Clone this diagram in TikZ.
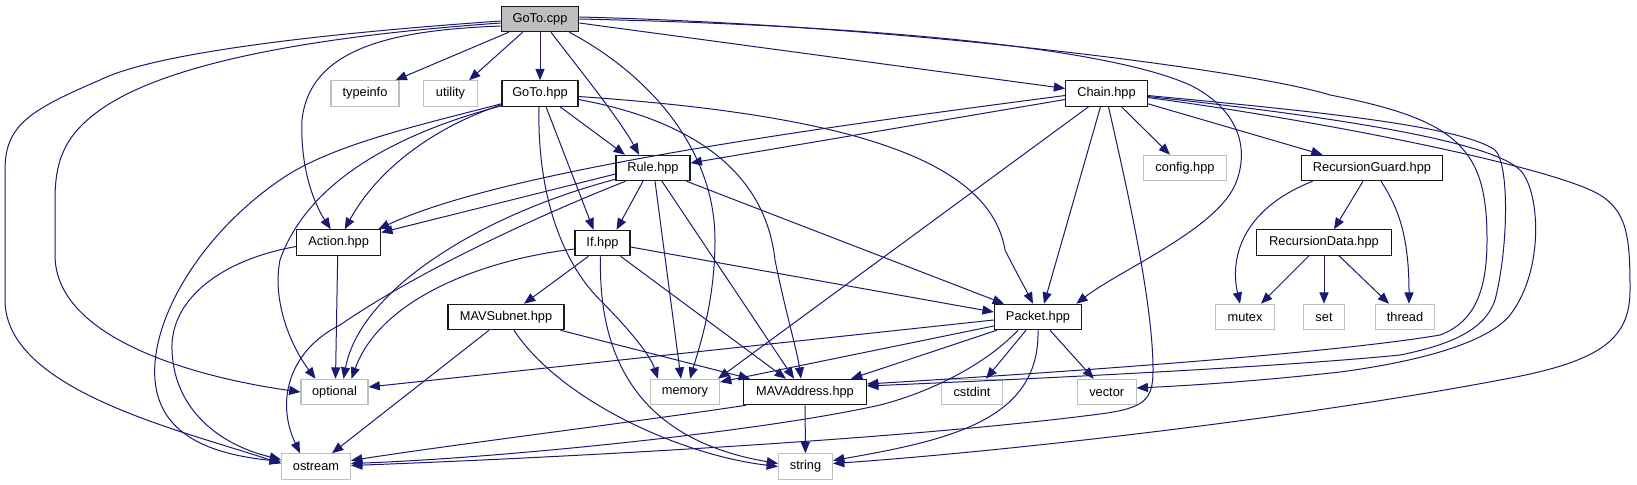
\documentclass[tikz,border=0pt]{standalone}
\usepackage{fontspec}
\setmainfont{Liberation Sans}
\usetikzlibrary{arrows.meta,calc}
\definecolor{edgeblue}{HTML}{191970}
\definecolor{lgray}{HTML}{BFBFBF}
\begin{document}
\begin{tikzpicture}[x=0.75pt,y=-0.75pt,
  base/.style={rectangle,inner sep=0pt,minimum height=19.1pt,line width=0.8pt,
    font=\fontsize{9.6pt}{11pt}\selectfont},
  hbox/.style={base,draw=black!90,fill=white},
  sbox/.style={base,draw=lgray,fill=white},
  cbox/.style={base,draw=black!90,fill=lgray},
  e/.style={draw=edgeblue,line width=0.75pt,-{Triangle[length=8.5pt,width=6.8pt]}}]
\useasboundingbox (0,0) rectangle (1637,485);
% nodes
\node[cbox,minimum width=58.2pt] (gotocpp) at (540,19) {GoTo.cpp};
\node[sbox,minimum width=51pt] (typeinfo) at (365,93.5) {typeinfo};
\node[sbox,minimum width=40.5pt] (utility) at (450.5,93.5) {utility};
\node[hbox,minimum width=57pt] (gotohpp) at (540,93.5) {GoTo.hpp};
\node[hbox,minimum width=61.2pt] (chain) at (1106.5,93.5) {Chain.hpp};
\node[hbox,minimum width=55.5pt] (rule) at (653,168) {Rule.hpp};
\node[sbox,minimum width=62.25pt] (config) at (1185,168) {config.hpp};
\node[hbox,minimum width=106.3pt] (rguard) at (1372,168) {RecursionGuard.hpp};
\node[hbox,minimum width=63pt] (action) at (338.7,242.5) {Action.hpp};
\node[hbox,minimum width=41.25pt] (ifh) at (602.5,243) {If.hpp};
\node[hbox,minimum width=101pt] (rdata) at (1324,242.5) {RecursionData.hpp};
\node[hbox,minimum width=87pt] (mavsubnet) at (506,317) {MAVSubnet.hpp};
\node[hbox,minimum width=65.6pt] (packet) at (1038,317) {Packet.hpp};
\node[sbox,minimum width=44.5pt] (mutex) at (1245,317) {mutex};
\node[sbox,minimum width=30.75pt] (set) at (1324,317) {set};
\node[sbox,minimum width=44.25pt] (thread) at (1405,317) {thread};
\node[sbox,minimum width=50.25pt] (optional) at (334.5,392) {optional};
\node[sbox,minimum width=51.75pt] (memory) at (685,392) {memory};
\node[hbox,minimum width=92.25pt] (mavaddr) at (805,392) {MAVAddress.hpp};
\node[sbox,minimum width=45.75pt] (cstdint) at (972,392) {cstdint};
\node[sbox,minimum width=44pt] (vector) at (1106.7,392) {vector};
\node[sbox,minimum width=51.75pt] (ostream) at (316,466.5) {ostream};
\node[sbox,minimum width=40.5pt] (string) at (805.5,466.5) {string};
% GoTo.cpp
\draw[e] ($(gotocpp.west)+(0,2)$) .. controls (300,35) and (150,55) .. (100,80) .. controls (30,110) and (5,125) .. (5,170) -- (5,300) .. controls (5,390) and (180,430) .. ($(ostream.west)+(0,-3)$);
\draw[e] ($(gotocpp.west)+(0,4)$) .. controls (330,35) and (170,60) .. (100,110) .. controls (65,135) and (55,160) .. (55,200) -- (55,255) .. controls (55,340) and (200,378) .. (optional.west);
\draw[e] ($(gotocpp.west)+(0,7)$) .. controls (400,30) and (310,45) .. (302,120) .. controls (300,170) and (315,205) .. ($(action.north)+(-8,0)$);
\draw[e] ($(gotocpp.south west)+(8,0)$) -- ($(typeinfo.north east)+(-4,0)$);
\draw[e] ($(gotocpp.south west)+(22,0)$) -- ($(utility.north east)+(-9,0)$);
\draw[e] (gotocpp) -- (gotohpp);
\draw[e] ($(gotocpp.south)+(11,0)$) .. controls (580,70) and (620,120) .. ($(rule.north)+(-14,0)$);
\draw[e] ($(gotocpp.south east)+(-10,0)$) .. controls (650,75) and (715,150) .. (715,240) .. controls (715,300) and (700,345) .. ($(memory.north)+(5,0)$);
\draw[e] ($(gotocpp.east)+(0,4)$) -- ($(chain.west)+(0,-5)$);
\draw[e] (gotocpp.east) .. controls (850,25) and (1100,45) .. (1190,85) .. controls (1240,110) and (1250,150) .. (1235,185) .. controls (1215,230) and (1120,270) .. ($(packet.north east)+(-6,0)$);
\draw[e] ($(gotocpp.east)+(0,-2)$) .. controls (900,25) and (1250,70) .. (1330,95) .. controls (1460,120) and (1487,150) .. (1487,240) .. controls (1487,290) and (1475,322) .. (1440,335) .. controls (1340,352) and (1100,370) .. ($(mavaddr.east)+(0,-8)$);
% Chain.hpp
\draw[e] ($(chain.west)+(0,2)$) .. controls (800,130) and (500,172) .. ($(action.north east)+(-3,0)$);
\draw[e] ($(chain.west)+(0,6)$) -- ($(rule.east)+(0,-5)$);
\draw[e] ($(chain.south)+(15,0)$) -- ($(config.north)+(-15,0)$);
\draw[e] ($(chain.south east)+(0,-3)$) -- ($(rguard.north west)+(22,0)$);
\draw[e] ($(chain.south)+(-6,0)$) -- ($(packet.north)+(6,0)$);
\draw[e] ($(chain.south)+(-18,0)$) -- ($(memory.north east)+(-2,0)$);
\draw[e] ($(chain.south)+(2,0)$) .. controls (1125,180) and (1153,300) .. (1153,370) .. controls (1153,400) and (1145,408) .. (1100,414) .. controls (900,440) and (550,458) .. ($(ostream.east)+(0,-1)$);
\draw[e] ($(chain.east)+(0,2)$) .. controls (1300,110) and (1460,125) .. (1495,150) .. controls (1510,165) and (1508,250) .. (1495,300) .. controls (1485,330) and (1450,345) .. (1400,355) .. controls (1300,365) and (1100,376) .. ($(mavaddr.east)+(0,-6)$);
\draw[e] ($(chain.east)+(0,3)$) .. controls (1320,115) and (1490,140) .. (1520,170) .. controls (1540,190) and (1545,270) .. (1510,315) .. controls (1490,340) and (1430,360) .. (1340,372) .. controls (1250,382) and (1180,386) .. ($(vector.east)+(0,-4)$);
\draw[e] ($(chain.east)+(0,4)$) .. controls (1350,125) and (1560,170) .. (1600,195) .. controls (1628,212) and (1630,240) .. (1630,290) .. controls (1630,340) and (1600,362) .. (1500,380) .. controls (1300,418) and (1000,452) .. ($(string.east)+(0,-3)$);
% GoTo.hpp
\draw[e] ($(gotohpp.south west)+(0,-3)$) .. controls (420,125) and (330,145) .. (280,180) .. controls (200,235) and (150,320) .. (155,380) .. controls (160,440) and (220,455) .. ($(ostream.west)+(0,-5)$);
\draw[e] ($(gotohpp.south west)+(0,-1)$) .. controls (410,130) and (310,175) .. (280,260) .. controls (272,300) and (290,345) .. ($(optional.north)+(-19,0)$);
\draw[e] ($(gotohpp.south west)+(0,-2)$) .. controls (440,125) and (380,165) .. ($(action.north)+(6,0)$);
\draw[e] ($(gotohpp.south)+(20,0)$) -- ($(rule.north)+(-28,0)$);
\draw[e] ($(gotohpp.south)+(6,0)$) -- ($(ifh.north)+(-9,0)$);
\draw[e] ($(gotohpp.south)+(-1,0)$) .. controls (537,190) and (560,260) .. (600,300) .. controls (630,330) and (650,355) .. ($(memory.north)+(-27,0)$);
\draw[e] ($(gotohpp.east)+(0,6)$) .. controls (690,120) and (765,170) .. (775,260) .. controls (785,310) and (797,350) .. ($(mavaddr.north)+(-4,0)$);
\draw[e] ($(gotohpp.east)+(0,3)$) .. controls (850,115) and (990,160) .. (1005,250) .. controls (1015,270) and (1025,288) .. ($(packet.north)+(-5,0)$);
% Rule.hpp
\draw[e] ($(rule.west)+(0,6)$) -- ($(action.east)+(0,-10)$);
\draw[e] ($(rule.south west)+(0,-2)$) .. controls (480,215) and (360,290) .. ($(optional.north)+(9,0)$);
\draw[e] ($(rule.south west)+(10,0)$) .. controls (540,215) and (420,270) .. (340,325) .. controls (290,350) and (275,400) .. ($(ostream.north)+(-16,0)$);
\draw[e] ($(rule.south)+(-10,0)$) -- ($(ifh.north)+(14,0)$);
\draw[e] ($(rule.south)+(2,0)$) -- ($(memory.north)+(-4,0)$);
\draw[e] ($(rule.south)+(9,0)$) -- ($(mavaddr.north)+(-11,0)$);
\draw[e] ($(rule.south east)+(-4,0)$) -- ($(packet.north)+(-34,0)$);
% If.hpp
\draw[e] ($(ifh.west)+(0,6)$) .. controls (480,260) and (380,300) .. ($(optional.north)+(17,0)$);
\draw[e] ($(ifh.south)+(-14,0)$) -- ($(mavsubnet.north)+(18,0)$);
\draw[e] ($(ifh.east)+(0,4)$) -- ($(packet.west)+(0,-5)$);
\draw[e] ($(ifh.south east)+(-10,0)$) -- ($(mavaddr.north)+(-19,0)$);
\draw[e] ($(ifh.south)+(-2,0)$) .. controls (598,360) and (640,440) .. ($(string.west)+(0,-3)$);
% MAVSubnet.hpp
\draw[e] ($(mavsubnet.south east)+(-4,0)$) -- ($(mavaddr.north west)+(7,0)$);
\draw[e] ($(mavsubnet.south)+(-17,0)$) -- ($(ostream.north)+(16,0)$);
\draw[e] ($(mavsubnet.south)+(8,0)$) .. controls (560,400) and (680,455) .. (string.west);
% Action.hpp
\draw[e] ($(action.south)+(-1,0)$) -- ($(optional.north)+(1,0)$);
\draw[e] ($(action.west)+(0,4)$) .. controls (220,260) and (170,300) .. (172,350) .. controls (174,410) and (220,445) .. ($(ostream.west)+(0,-7)$);
% Packet.hpp
\draw[e] ($(packet.west)+(0,3)$) -- ($(optional.east)+(0,-5)$);
\draw[e] ($(packet.west)+(0,9)$) -- ($(memory.east)+(0,-10)$);
\draw[e] ($(packet.south west)+(3,0)$) -- ($(mavaddr.north east)+(-16,0)$);
\draw[e] ($(packet.south)+(-20,0)$) .. controls (980,370) and (920,395) .. (880,405) .. controls (760,432) and (500,458) .. ($(ostream.east)+(0,-3)$);
\draw[e] ($(packet.south)+(-12,0)$) -- ($(cstdint.north)+(14,0)$);
\draw[e] (packet.south) .. controls (1040,420) and (950,440) .. ($(string.east)+(0,-6)$);
\draw[e] ($(packet.south)+(12,0)$) -- ($(vector.north)+(-13,0)$);
% MAVAddress.hpp
\draw[e] ($(mavaddr.south west)+(3,0)$) .. controls (650,420) and (450,445) .. ($(ostream.east)+(0,-6)$);
\draw[e] (mavaddr) -- (string);
% RecursionGuard.hpp
\draw[e] ($(rguard.south)+(-9,0)$) -- ($(rdata.north)+(10,0)$);
\draw[e] ($(rguard.south west)+(12,0)$) .. controls (1240,210) and (1230,260) .. ($(mutex.north)+(-5,0)$);
\draw[e] ($(rguard.south)+(9,0)$) .. controls (1400,210) and (1409,240) .. ($(thread.north)+(4,0)$);
% RecursionData.hpp
\draw[e] ($(rdata.south)+(-15,0)$) -- ($(mutex.north)+(16,0)$);
\draw[e] (rdata) -- (set);
\draw[e] ($(rdata.south)+(15,0)$) -- ($(thread.north)+(-16,0)$);
\end{tikzpicture}
\end{document}
